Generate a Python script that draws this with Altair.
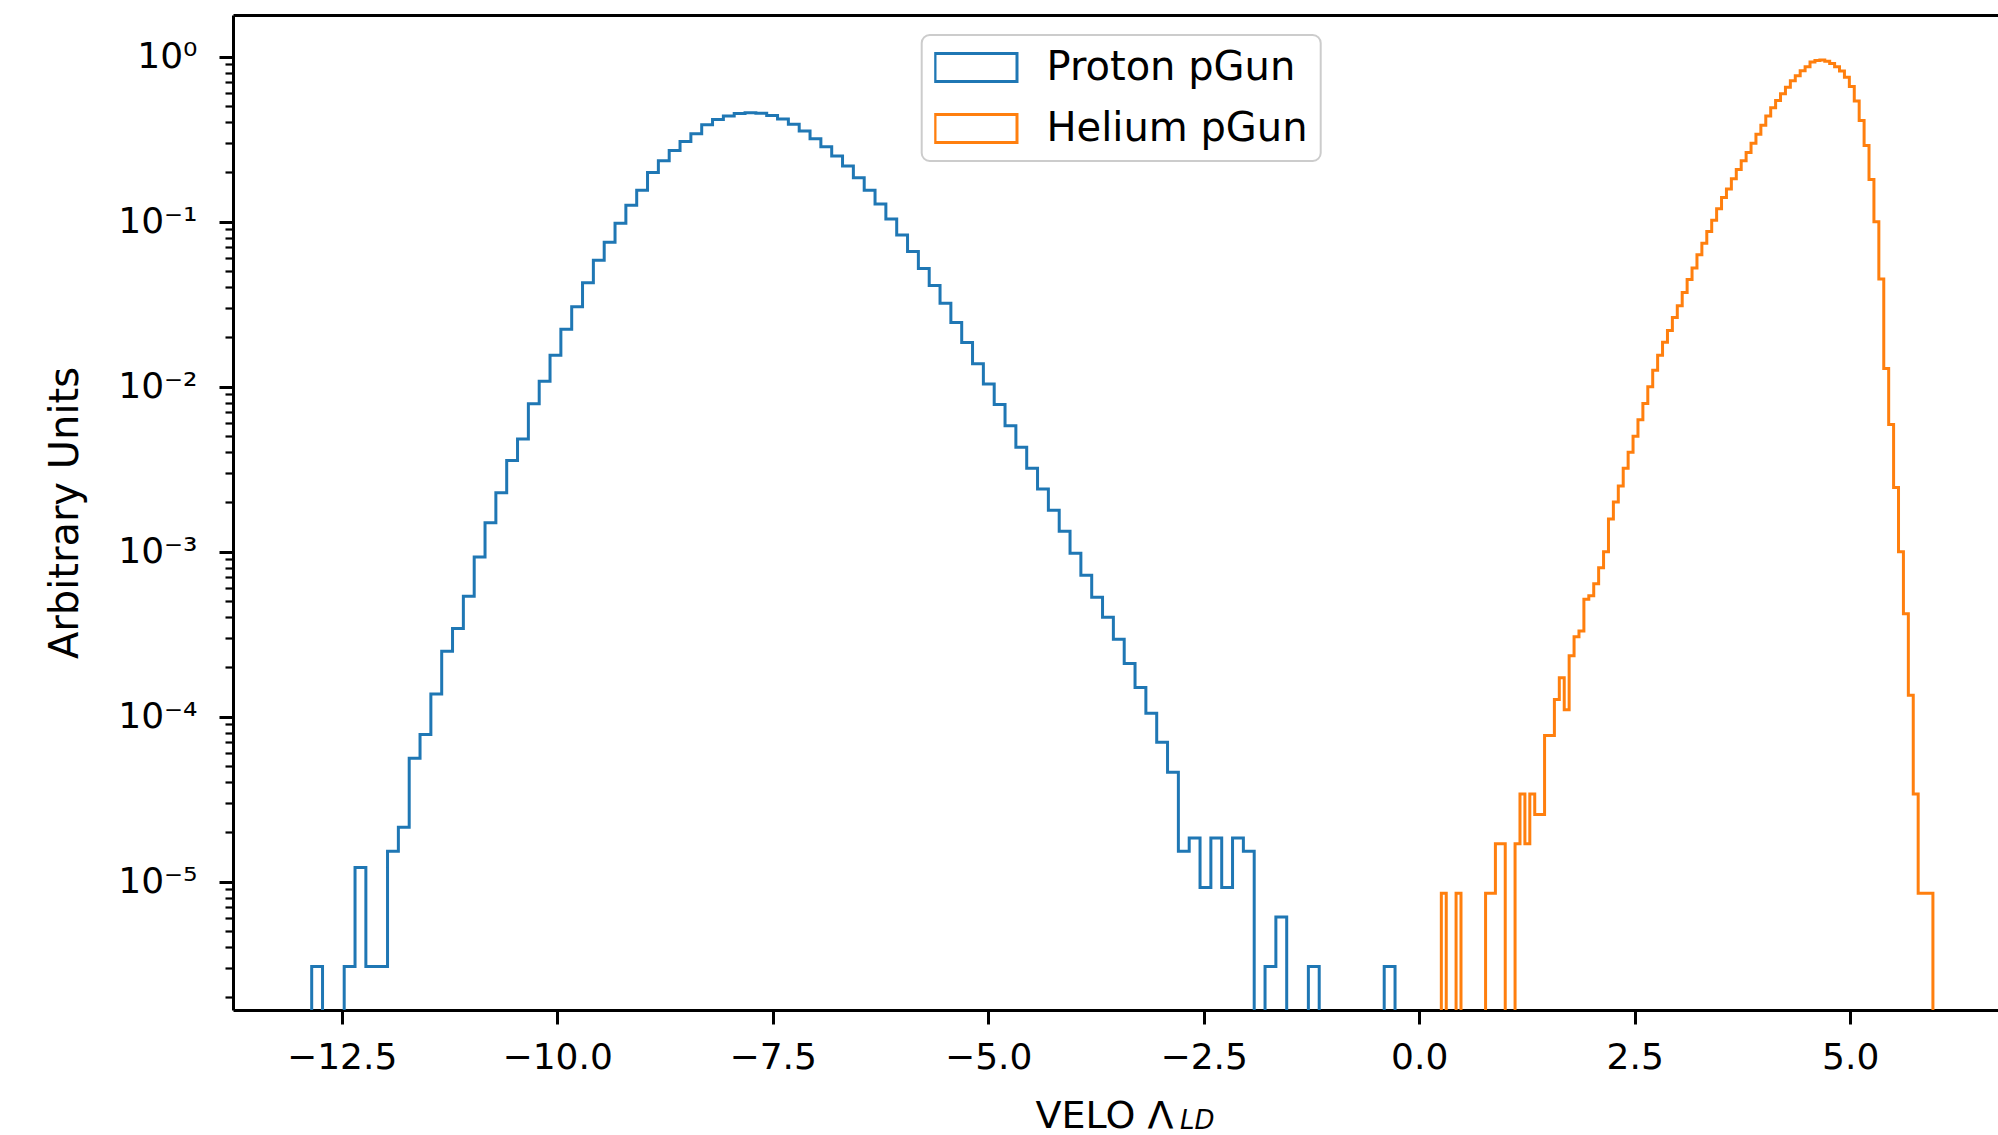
import json
import altair as alt
import numpy as np
import pandas as pd

# ---------------- data ----------------
series_names = ["Proton pGun", "Helium pGun"]
series_colors = ["#1f77b4", "#ff7f0e"]

# histogram ranges (first left edge, last right edge); 100 bins each
proton_range = [-12.848, -0.28]
helium_range = [0.257, 5.96]

proton_density = [
    3.06e-6, 0, 0, 3.06e-6, 1.22e-5, 3.06e-6, 3.06e-6, 1.53e-5, 2.14e-5, 5.6e-5,
    7.8e-5, 1.37e-4, 2.49e-4, 3.42e-4, 5.36e-4, 9.3e-4, 1.50e-3, 2.28e-3, 3.57e-3, 4.82e-3,
    7.87e-3, 1.08e-2, 1.55e-2, 2.23e-2, 3.05e-2, 4.27e-2, 5.85e-2, 7.5e-2, 9.8e-2, 0.126,
    0.155, 0.199, 0.234, 0.27, 0.306, 0.341, 0.387, 0.417, 0.438, 0.453,
    0.457, 0.455, 0.44, 0.42, 0.39, 0.355, 0.318, 0.285, 0.25, 0.218,
    0.185, 0.155, 0.128, 0.104, 0.083, 0.066, 0.052, 0.041, 0.032, 0.0245,
    0.0185, 0.0138, 0.0104, 7.8e-3, 5.8e-3, 4.3e-3, 3.2e-3, 2.4e-3, 1.78e-3, 1.33e-3,
    9.8e-4, 7.2e-4, 5.3e-4, 4.0e-4, 2.95e-4, 2.1e-4, 1.5e-4, 1.05e-4, 7.0e-5, 4.6e-5,
    1.53e-5, 1.84e-5, 9.2e-6, 1.84e-5, 9.2e-6, 1.84e-5, 1.53e-5, 0, 3.06e-6, 6.1e-6,
    0, 0, 3.06e-6, 0, 0, 0, 0, 0, 0, 3.06e-6,
]

helium_density = [
    8.5e-6, 0, 0, 8.5e-6, 0, 0, 0, 0, 0, 8.5e-6,
    8.5e-6, 1.7e-5, 1.7e-5, 0, 0, 1.7e-5, 3.4e-5, 1.7e-5, 3.4e-5, 2.55e-5,
    2.55e-5, 7.7e-5, 7.7e-5, 1.27e-4, 1.72e-4, 1.1e-4, 2.34e-4, 3.05e-4, 3.3e-4, 5.15e-4,
    5.4e-4, 6.4e-4, 8.0e-4, 1.0e-3, 1.58e-3, 2.0e-3, 2.5e-3, 3.2e-3, 4.0e-3, 5.0e-3,
    6.3e-3, 7.9e-3, 1.0e-2, 1.26e-2, 1.55e-2, 1.86e-2, 2.19e-2, 2.63e-2, 3.09e-2, 3.72e-2,
    4.47e-2, 5.25e-2, 6.31e-2, 7.41e-2, 8.71e-2, 0.102, 0.120, 0.140, 0.158, 0.182,
    0.207, 0.234, 0.263, 0.299, 0.339, 0.385, 0.437, 0.49, 0.543, 0.596,
    0.653, 0.716, 0.767, 0.822, 0.871, 0.93, 0.95, 0.955, 0.94, 0.91,
    0.87, 0.82, 0.75, 0.66, 0.54, 0.41, 0.29, 0.18, 0.10, 0.045,
    0.0129, 5.9e-3, 2.45e-3, 1.0e-3, 4.2e-4, 1.35e-4, 3.4e-5, 8.5e-6, 8.5e-6, 8.5e-6,
]

x_ticks = [-12.5, -10.0, -7.5, -5.0, -2.5, 0.0, 2.5, 5.0]
y_major = [1e-5, 1e-4, 1e-3, 1e-2, 1e-1, 1.0]
y_major_labels = ["10⁻⁵", "10⁻⁴", "10⁻³", "10⁻²", "10⁻¹", "10⁰"]
x_domain = [-13.761, 6.715]
y_domain = [10 ** -5.778, 10 ** 0.253]
x_title = "VELO Λ"
x_title_sub = "LD"
y_title = "Arbitrary Units"

# ---------------- build step outlines (matplotlib histtype="step") ----------------
FLOOR = 1e-9  # empty bins fall below the visible range and are clipped


def step_rows(name, rng, dens):
    edges = np.linspace(rng[0], rng[1], len(dens) + 1)
    pts = [(edges[0], FLOOR)]
    for k, v in enumerate(dens):
        val = v if v > 0 else FLOOR
        pts.append((edges[k], val))
        pts.append((edges[k + 1], val))
    pts.append((edges[-1], FLOOR))
    return [{"series": name, "x": float(x), "y": float(y), "i": i} for i, (x, y) in enumerate(pts)]


rows = step_rows(series_names[0], proton_range, proton_density) + \
    step_rows(series_names[1], helium_range, helium_density)
df = pd.DataFrame(rows)

y_minor = [m * 10.0 ** k for k in range(-6, 1) for m in range(2, 10)
           if y_domain[0] < m * 10.0 ** k < y_domain[1]]

FONT = "DejaVu Sans"
W, H = 1765, 995

is_major = "abs(log(datum.value)/LN10 - round(log(datum.value)/LN10)) < 0.01"
label_expr = (f"{is_major} ? {json.dumps(y_major_labels, ensure_ascii=False)}"
              f"[round(log(datum.value)/LN10)+5] : ''")

xscale = alt.Scale(domain=x_domain, nice=False, zero=False)
yscale = alt.Scale(type="log", domain=y_domain, nice=False)

legend_shape = "M-2,-0.68L2,-0.68L2,0.68L-2,0.68Z"

lines = alt.Chart(df).mark_line(strokeWidth=3, clip=True, strokeJoin="miter").encode(
    x=alt.X("x:Q", scale=xscale,
            axis=alt.Axis(values=x_ticks,
                          labelExpr="replace(format(datum.value, '.1f'), '-', '−')",
                          tickSize=14, tickWidth=3, tickColor="black",
                          domainWidth=3, domainColor="black",
                          labelFontSize=36, labelFont=FONT, labelColor="black",
                          labelPadding=16, labelFlush=False, labelOverlap=False,
                          grid=False,
                          title=x_title, titleFont=FONT, titleFontSize=38,
                          titleFontWeight="normal", titleColor="black",
                          titleX=871, titleY=117, titleAlign="center",
                          titleBaseline="alphabetic")),
    y=alt.Y("y:Q", scale=yscale,
            axis=alt.Axis(values=y_major + y_minor, labelExpr=label_expr,
                          tickSize={"condition": {"test": is_major, "value": 14}, "value": 8},
                          tickWidth={"condition": {"test": is_major, "value": 3}, "value": 2.2},
                          tickColor="black", domainWidth=3, domainColor="black",
                          labelFontSize=36, labelFont=FONT, labelColor="black",
                          labelPadding=22, labelFlush=False, labelOverlap=False,
                          labelBound=False, grid=False,
                          title=y_title, titleFont=FONT, titleFontSize=40,
                          titleFontWeight="normal", titleColor="black",
                          titleX=-156, titleY=H / 2, titleAngle=270,
                          titleAlign="center", titleBaseline="alphabetic")),
    color=alt.Color("series:N",
                    scale=alt.Scale(domain=series_names, range=series_colors),
                    legend=alt.Legend(title=None, orient="none", legendX=688.7, legendY=20,
                                      symbolType=legend_shape, symbolSize=1681,
                                      symbolStrokeWidth=3, symbolFillColor="white",
                                      symbolOffset=19.8, labelOffset=48.5,
                                      labelFontSize=40, labelFont=FONT, labelColor="black",
                                      labelLimit=0, padding=12.5, rowPadding=21,
                                      clipHeight=40, fillColor="white",
                                      strokeColor="#cccccc", cornerRadius=8)),
    order="i:Q",
    detail="series:N",
)

# top frame line (matplotlib top spine)
top_frame = alt.Chart(pd.DataFrame({"x": [x_domain[0]]})).mark_point(opacity=0).encode(
    x=alt.X("x:Q", scale=xscale,
            axis=alt.Axis(orient="top", labels=False, ticks=False, title=None,
                          domainWidth=3, domainColor="black", grid=False)),
)

# subscript of the x-axis title
sub = alt.Chart(pd.DataFrame({"t": [x_title_sub]})).mark_text(
    font=FONT, fontSize=26, fontStyle="italic", align="left", baseline="alphabetic",
    color="black").encode(
    x=alt.value(947), y=alt.value(1114), text="t:N")

chart = alt.layer(lines, top_frame, sub).resolve_axis(x="independent").properties(
    width=W, height=H,
    autosize=alt.AutoSizeParams(type="none"),
    padding={"left": 233, "top": 15, "right": 0, "bottom": 125},
    background="white",
).configure_view(stroke=None).configure_legend(strokeWidth=2)

chart.save("out.html", embed_options={"renderer": "svg", "actions": False})
